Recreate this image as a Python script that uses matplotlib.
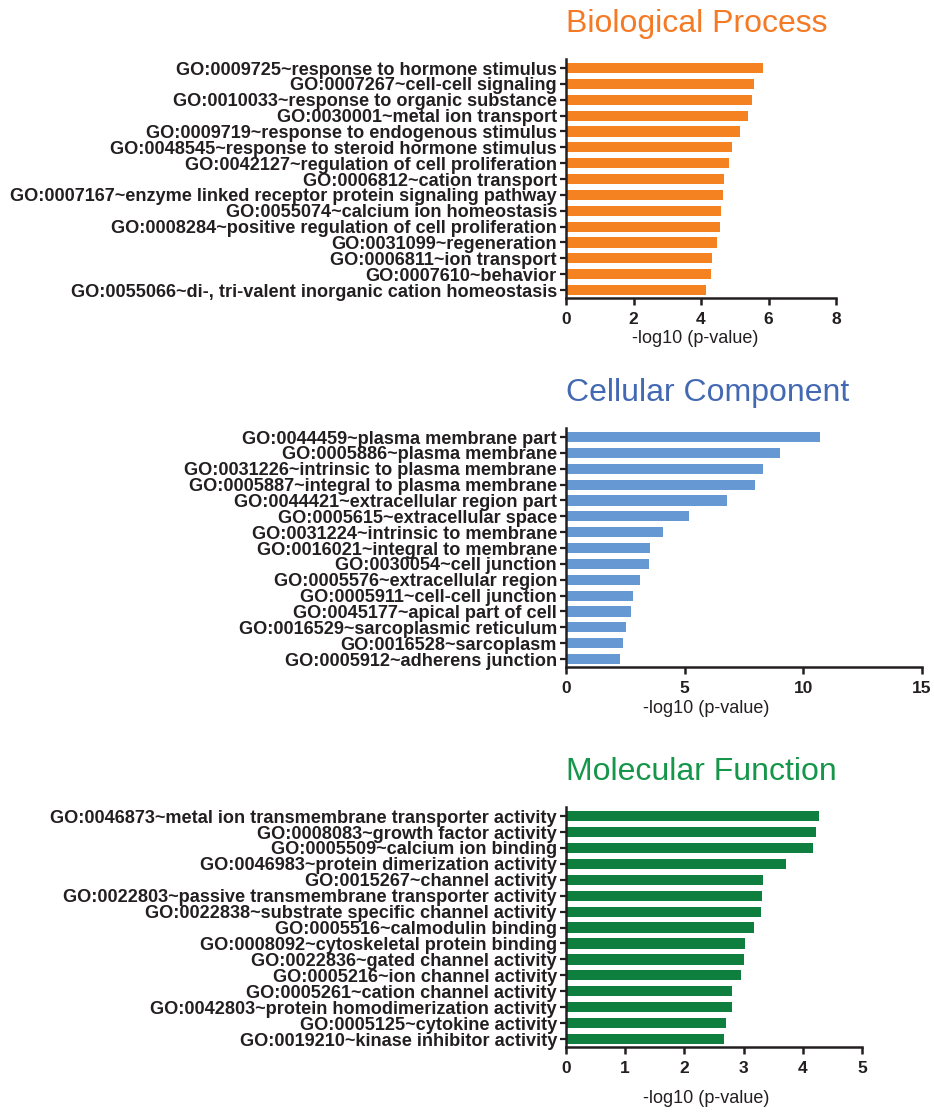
import matplotlib
matplotlib.use("Agg")
import matplotlib.pyplot as plt

plt.rcParams['font.family'] = ['Liberation Sans', 'DejaVu Sans']

W, H = 934, 1112

bp_terms = [
    "GO:0009725~response to hormone stimulus",
    "GO:0007267~cell-cell signaling",
    "GO:0010033~response to organic substance",
    "GO:0030001~metal ion transport",
    "GO:0009719~response to endogenous stimulus",
    "GO:0048545~response to steroid hormone stimulus",
    "GO:0042127~regulation of cell proliferation",
    "GO:0006812~cation transport",
    "GO:0007167~enzyme linked receptor protein signaling pathway",
    "GO:0055074~calcium ion homeostasis",
    "GO:0008284~positive regulation of cell proliferation",
    "GO:0031099~regeneration",
    "GO:0006811~ion transport",
    "GO:0007610~behavior",
    "GO:0055066~di-, tri-valent inorganic cation homeostasis",
]
bp_values = [5.85, 5.57, 5.50, 5.40, 5.15, 4.93, 4.83, 4.68, 4.64, 4.60,
             4.57, 4.48, 4.34, 4.29, 4.15]

cc_terms = [
    "GO:0044459~plasma membrane part",
    "GO:0005886~plasma membrane",
    "GO:0031226~intrinsic to plasma membrane",
    "GO:0005887~integral to plasma membrane",
    "GO:0044421~extracellular region part",
    "GO:0005615~extracellular space",
    "GO:0031224~intrinsic to membrane",
    "GO:0016021~integral to membrane",
    "GO:0030054~cell junction",
    "GO:0005576~extracellular region",
    "GO:0005911~cell-cell junction",
    "GO:0045177~apical part of cell",
    "GO:0016529~sarcoplasmic reticulum",
    "GO:0016528~sarcoplasm",
    "GO:0005912~adherens junction",
]
cc_values = [10.69, 9.03, 8.31, 7.95, 6.80, 5.17, 4.10, 3.54, 3.50, 3.13,
             2.81, 2.74, 2.54, 2.40, 2.29]

mf_terms = [
    "GO:0046873~metal ion transmembrane transporter activity",
    "GO:0008083~growth factor activity",
    "GO:0005509~calcium ion binding",
    "GO:0046983~protein dimerization activity",
    "GO:0015267~channel activity",
    "GO:0022803~passive transmembrane transporter activity",
    "GO:0022838~substrate specific channel activity",
    "GO:0005516~calmodulin binding",
    "GO:0008092~cytoskeletal protein binding",
    "GO:0022836~gated channel activity",
    "GO:0005216~ion channel activity",
    "GO:0005261~cation channel activity",
    "GO:0042803~protein homodimerization activity",
    "GO:0005125~cytokine activity",
    "GO:0019210~kinase inhibitor activity",
]
mf_values = [4.27, 4.23, 4.17, 3.71, 3.32, 3.31, 3.29, 3.17, 3.02, 3.00,
             2.95, 2.81, 2.80, 2.70, 2.67]

panels = [
    # title, terms, values, bar colour, title colour, xmax, xticks,
    # axes box in pixels (left, right, top, bottom), xlabel x (axes frac), xlabel y px
    ("Biological Process", bp_terms, bp_values, "#F58220", "#F47A25", 8, [0, 2, 4, 6, 8],
     (566, 836, 59, 298), 0.478, 343),
    ("Cellular Component", cc_terms, cc_values, "#6699D3", "#4469B3", 15, [0, 5, 10, 15],
     (566, 922, 428, 667), 0.393, 713),
    ("Molecular Function", mf_terms, mf_values, "#0F7F40", "#16964A", 5, [0, 1, 2, 3, 4, 5],
     (566, 862, 807, 1047), 0.473, 1103),
]

fig = plt.figure(figsize=(W / 100, H / 100), dpi=100)
spine_col = "#231F20"

for (title, terms, vals, col, tcol, xmax, xt, box, xlx, xly) in panels:
    l, r, t, b = box
    ax = fig.add_axes([l / W, 1 - b / H, (r - l) / W, (b - t) / H])
    y = list(range(len(terms)))
    ax.barh(y, vals, height=0.64, color=col, edgecolor='none')
    ax.set_ylim(len(terms) - 1 + 0.5, -0.57)
    ax.set_xlim(0, xmax)
    ax.set_xticks(xt)
    ax.set_xticklabels([str(v) for v in xt], fontsize=12.5, fontweight='bold')
    ax.set_yticks(y)
    ax.set_yticklabels(terms, fontsize=13.05, fontweight='bold', color=spine_col)
    for s in ('top', 'right'):
        ax.spines[s].set_visible(False)
    for s in ('left', 'bottom'):
        ax.spines[s].set_linewidth(1.8)
        ax.spines[s].set_color(spine_col)
    ax.tick_params(axis='y', length=4, width=1.6, pad=2.5, colors=spine_col)
    ax.tick_params(axis='x', length=5, width=1.8, pad=5, colors=spine_col)
    ax.set_xlabel("-log10 (p-value)", fontsize=13, color=spine_col)
    # place the axis label by its baseline position in pixels
    ax.xaxis.set_label_coords(xlx, -(xly - b) / (b - t), transform=ax.transAxes)
    ax.xaxis.label.set_va('baseline')
    fig.text(l / W, 1 - (t - 27) / H, title, fontsize=23, color=tcol,
             ha='left', va='baseline')

fig.savefig("out.png", dpi=100)
